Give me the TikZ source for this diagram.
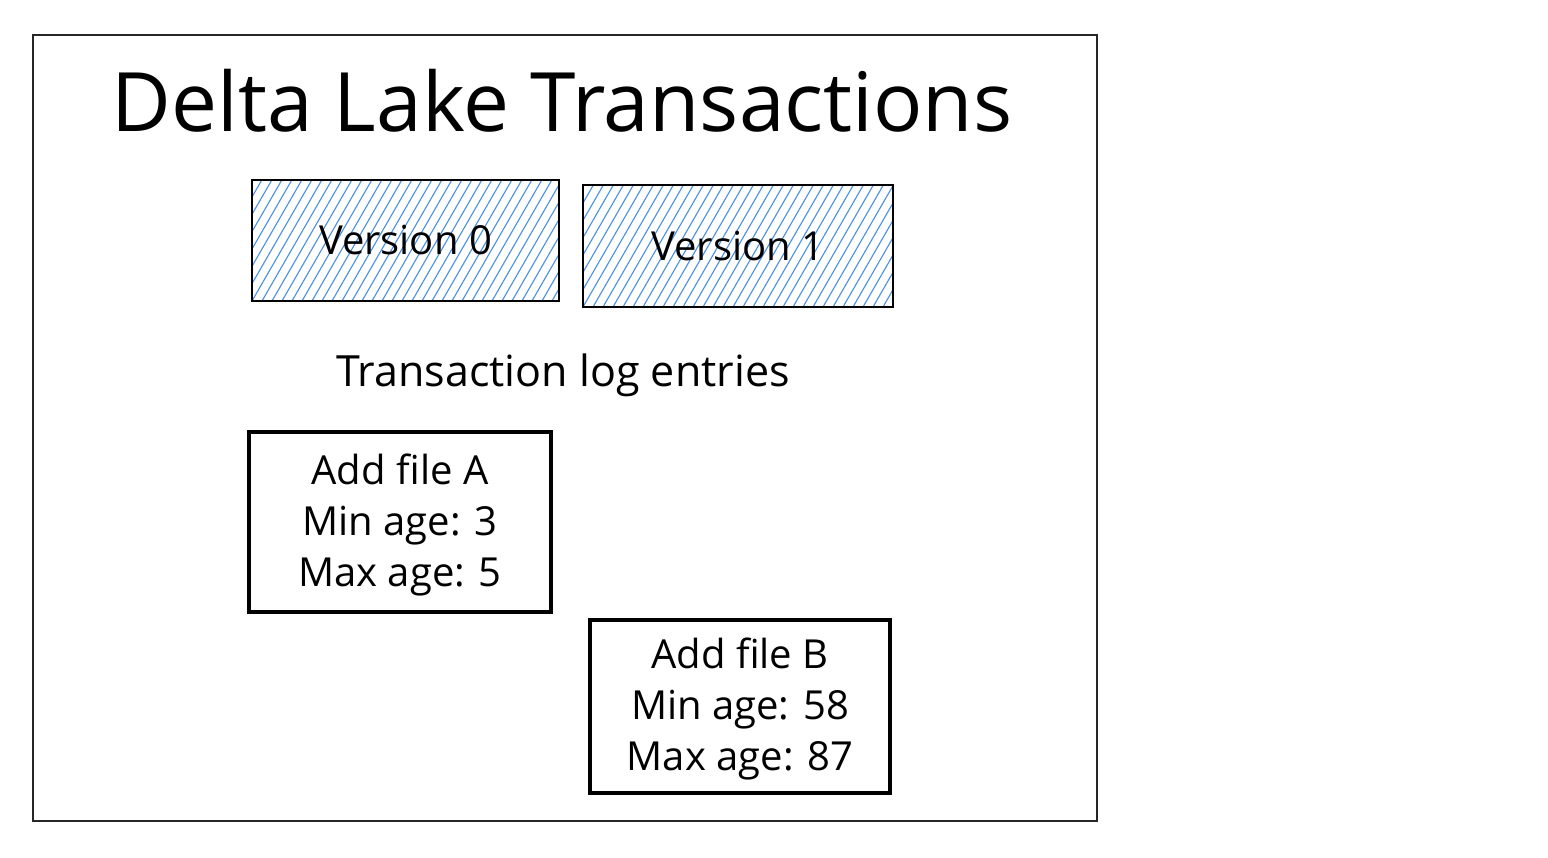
\documentclass[tikz,border=0pt]{standalone}
\usepackage{fontspec}
\setmainfont{Open Sans}
\begin{document}
\begin{tikzpicture}[x=1pt,y=-1pt,
  frame/.style={draw=black!85,line width=1.6pt},
  verbox/.style={draw=black,line width=2.6pt,inner sep=0pt,font=\fontsize{40}{44}\selectfont},
  entrybox/.style={draw=black,line width=3.2pt,inner sep=0pt,align=center,font=\fontsize{40}{51}\selectfont},
  hatch/.style={draw=hatchblue,line width=1.1pt}]
\definecolor{hatchblue}{HTML}{4A90E2}
\useasboundingbox (0,0) rectangle (1548,858);
\fill[white] (0,0) rectangle (1548,858);
\draw[frame] (33,35) rectangle (1097,821);
\node (title) at (562,101) {\fontsize{82}{88}\selectfont Delta Lake Transactions};
% version boxes with hatching
\begin{scope}
\clip (252,180) rectangle (559,301);
\foreach \i in {-120,-110,...,400} {\draw[hatch] (252+\i,301) -- ++(75,-130);}
\end{scope}
\begin{scope}
\clip (583,185) rectangle (893,307);
\foreach \i in {-120,-110,...,400} {\draw[hatch] (583+\i,307) -- ++(75,-130);}
\end{scope}
\node[verbox,minimum width=307pt,minimum height=121pt] (v0) at (405.5,240.5) {Version 0};
\node[verbox,minimum width=310pt,minimum height=122pt] (v1) at (738,246) {Version 1};
\node (log) at (563,375) {\fontsize{43}{48}\selectfont Transaction log entries};
\node[entrybox,minimum width=302pt,minimum height=180pt] (a) at (400,522) {};
\node (atext) at (400,525) [align=center,font=\fontsize{40}{51}\selectfont,inner sep=0pt] {Add file A\\Min age: 3\\Max age: 5};
\node[entrybox,minimum width=300pt,minimum height=173pt] (b) at (740,706.5) {};
\node (btext) at (740,709) [align=center,font=\fontsize{40}{51}\selectfont,inner sep=0pt] {Add file B\\Min age: 58\\Max age: 87};
\end{tikzpicture}
\end{document}
